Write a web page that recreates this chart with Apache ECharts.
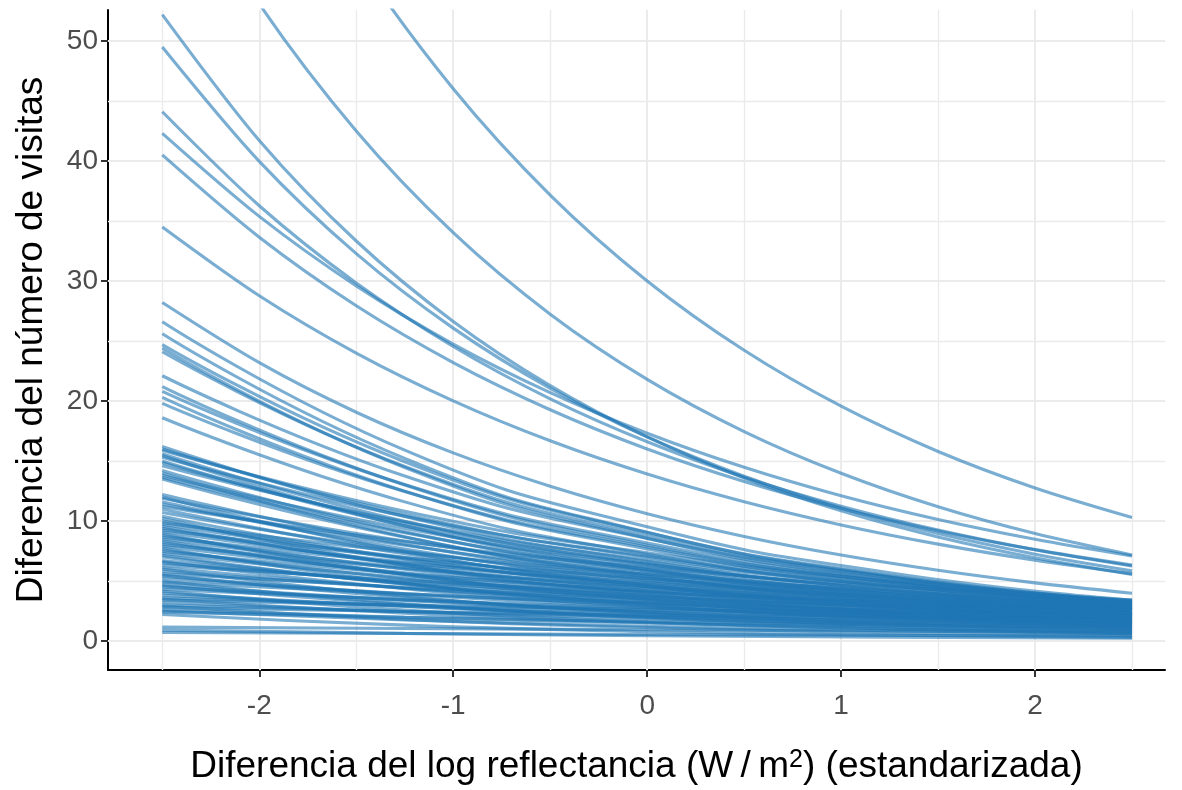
<!DOCTYPE html>
<html lang="es">
<head>
<meta charset="UTF-8">
<title>Diferencia del número de visitas</title>
<script src="https://cdn.jsdelivr.net/npm/echarts@6.0.0/dist/echarts.min.js"></script>
<style>
  html, body { margin: 0; padding: 0; background: #fff; }
  #chart { width: 1182px; height: 790px; }
</style>
</head>
<body>
<div id="chart"></div>
<script>
const xFine = [-2.5, -2, -1.5, -1, -0.5, 0, 0.5, 1, 1.5, 2, 2.5];
const xPoints = [-2.5, -1.25, 0, 1.25, 2.5];
const xTicks = [-2, -1, 0, 1, 2];
const yTicks = [0, 10, 20, 30, 40, 50];
const xMinorGrid = [-2.5, -1.5, -0.5, 0.5, 1.5, 2.5];
const yMinorGrid = [5, 15, 25, 35, 45];

// curves that stay above the dense band (read at xFine)
const topCurves = [
  [87.4, 70.6, 57.0, 46.02, 37.16, 30.0, 24.22, 19.56, 15.79, 12.75, 10.29],
  [66.3, 53.09, 42.5, 34.02, 27.23, 21.8, 17.45, 13.97, 11.18, 8.95, 7.17],
  [52.2, 41.71, 33.33, 26.63, 21.28, 17.0, 13.58, 10.85, 8.67, 6.93, 5.54],
  [49.5, 39.97, 32.28, 26.07, 21.05, 17.0, 13.73, 11.08, 8.95, 7.23, 5.84],
  [44.1, 36.27, 29.83, 24.54, 20.18, 16.6, 13.65, 11.23, 9.24, 7.6, 6.25],
  [42.3, 35.38, 29.59, 24.74, 20.69, 17.31, 14.47, 12.1, 10.12, 8.47, 7.08],
  [40.5, 33.64, 27.93, 23.2, 19.27, 16.0, 13.29, 11.04, 9.17, 7.61, 6.32],
  [34.5, 28.77, 23.99, 20.01, 16.68, 13.91, 11.6, 9.67, 8.07, 6.73, 5.61],
  [28.2, 23.19, 19.06, 15.67, 12.89, 10.6, 8.71, 7.16, 5.89, 4.84, 3.98]
];

// curves starting between ~18 and ~27 (read at xPoints)
const upperBand = [
  [26.6, 15.9, 9.51, 5.69, 3.4],
  [25.6, 15.22, 9.05, 5.38, 3.2],
  [24.7, 14.93, 9.03, 5.46, 3.3],
  [24.4, 14.45, 8.56, 5.07, 3.0],
  [24.1, 14.55, 8.78, 5.3, 3.2],
  [22.1, 13.74, 8.54, 5.31, 3.3],
  [21.2, 13.0, 7.98, 4.89, 3.0],
  [20.8, 13.03, 8.16, 5.11, 3.2],
  [20.3, 12.48, 7.67, 4.72, 2.9],
  [19.8, 12.45, 7.83, 4.93, 3.1],
  [18.6, 11.59, 7.22, 4.5, 2.8]
];

// the dense band (read at xPoints)
const denseBand = [
  [16.2, 10.37, 6.64, 4.25, 2.72],
  [16.0, 10.56, 6.97, 4.6, 3.04],
  [15.9, 10.81, 7.35, 5.0, 3.4],
  [15.6, 9.98, 6.39, 4.09, 2.62],
  [15.45, 9.58, 5.94, 3.68, 2.28],
  [15.3, 10.4, 7.07, 4.81, 3.27],
  [15.0, 9.6, 6.14, 3.93, 2.52],
  [14.85, 9.8, 6.47, 4.27, 2.82],
  [14.6, 9.93, 6.75, 4.59, 3.12],
  [14.2, 9.09, 5.82, 3.72, 2.38],
  [14.0, 8.68, 5.38, 3.34, 2.07],
  [13.8, 9.38, 6.38, 4.34, 2.95],
  [13.65, 9.01, 5.95, 3.92, 2.59],
  [13.5, 8.64, 5.53, 3.54, 2.27],
  [12.2, 8.05, 5.31, 3.51, 2.31],
  [12.0, 7.44, 4.61, 2.86, 1.77],
  [11.9, 8.33, 5.83, 4.08, 2.86],
  [11.6, 7.66, 5.05, 3.34, 2.2],
  [11.4, 7.98, 5.59, 3.91, 2.74],
  [11.2, 8.29, 6.13, 4.54, 3.36],
  [11.0, 7.26, 4.79, 3.16, 2.09],
  [10.7, 7.49, 5.24, 3.67, 2.57],
  [10.4, 6.86, 4.53, 2.99, 1.97],
  [10.2, 6.32, 3.92, 2.43, 1.51],
  [10.0, 6.8, 4.62, 3.14, 2.14],
  [9.85, 7.39, 5.54, 4.16, 3.12],
  [9.7, 6.98, 5.03, 3.62, 2.61],
  [9.55, 6.3, 4.16, 2.75, 1.81],
  [9.4, 6.39, 4.35, 2.96, 2.01],
  [9.25, 6.94, 5.2, 3.9, 2.93],
  [9.1, 6.55, 4.72, 3.4, 2.45],
  [8.95, 5.55, 3.44, 2.13, 1.32],
  [8.8, 5.98, 4.07, 2.77, 1.88],
  [8.65, 6.49, 4.87, 3.65, 2.74],
  [8.5, 6.12, 4.41, 3.17, 2.28],
  [8.35, 5.51, 3.64, 2.4, 1.58],
  [8.2, 5.58, 3.79, 2.58, 1.75],
  [8.05, 6.04, 4.53, 3.4, 2.55],
  [7.9, 5.69, 4.1, 2.95, 2.12],
  [7.75, 4.81, 2.98, 1.85, 1.15],
  [7.6, 5.17, 3.51, 2.39, 1.62],
  [7.45, 5.59, 4.19, 3.14, 2.36],
  [7.3, 5.26, 3.78, 2.72, 1.96],
  [7.15, 4.72, 3.11, 2.06, 1.36],
  [7.0, 4.76, 3.24, 2.2, 1.5],
  [6.7, 4.82, 3.47, 2.5, 1.8],
  [6.6, 4.36, 2.87, 1.9, 1.25],
  [6.5, 4.94, 3.75, 2.85, 2.17],
  [6.3, 5.04, 4.03, 3.23, 2.58],
  [6.1, 4.39, 3.16, 2.28, 1.64],
  [6.0, 3.72, 2.31, 1.43, 0.89],
  [5.8, 4.41, 3.35, 2.55, 1.93],
  [5.6, 4.48, 3.58, 2.87, 2.29],
  [5.5, 3.63, 2.4, 1.58, 1.04],
  [5.4, 3.89, 2.8, 2.02, 1.45],
  [5.2, 3.95, 3.0, 2.28, 1.73],
  [5.0, 3.1, 1.92, 1.19, 0.74],
  [4.9, 3.92, 3.14, 2.51, 2.01],
  [4.7, 3.38, 2.44, 1.75, 1.26],
  [4.6, 3.04, 2.0, 1.32, 0.87],
  [4.5, 3.42, 2.6, 1.98, 1.5],
  [4.3, 3.44, 2.75, 2.2, 1.76],
  [4.15, 2.57, 1.6, 0.99, 0.61],
  [4.0, 2.88, 2.07, 1.49, 1.07],
  [3.8, 2.89, 2.19, 1.67, 1.27],
  [3.6, 2.95, 2.42, 1.99, 1.63],
  [3.5, 2.31, 1.52, 1.01, 0.66],
  [3.4, 2.99, 2.63, 2.32, 2.04],
  [3.2, 2.43, 1.85, 1.4, 1.07],
  [3.0, 2.46, 2.02, 1.65, 1.36],
  [2.9, 1.8, 1.11, 0.69, 0.43],
  [2.8, 2.46, 2.17, 1.91, 1.68],
  [2.6, 1.98, 1.5, 1.14, 0.87],
  [2.5, 1.75, 1.23, 0.86, 0.6],
  [2.4, 1.97, 1.61, 1.32, 1.09],
  [2.2, 1.32, 0.79, 0.48, 0.29],
  [1.15, 1.04, 0.93, 0.84, 0.75],
  [0.9, 0.63, 0.44, 0.31, 0.22],
  [0.7, 0.62, 0.54, 0.48, 0.42]
];

const chart = echarts.init(document.getElementById('chart'), null, { renderer: 'canvas' });

const FONT = '"Liberation Sans", Arial, sans-serif';
const LINE_COLOR = 'rgba(31,119,180,0.6)';

// gridlines drawn as markLines so they land exactly on the round values
const gridSeries = {
  type: 'line',
  data: [],
  z: 1,
  silent: true,
  markLine: {
    z: 1,
    silent: true,
    symbol: 'none',
    animation: false,
    label: { show: false },
    emphasis: { disabled: true },
    data: [
      ...xMinorGrid.map(v => ({ xAxis: v, lineStyle: { color: '#ebebeb', width: 1.4, type: 'solid' } })),
      ...yMinorGrid.map(v => ({ yAxis: v, lineStyle: { color: '#ebebeb', width: 1.4, type: 'solid' } })),
      ...xTicks.map(v => ({ xAxis: v, lineStyle: { color: '#ebebeb', width: 2, type: 'solid' } })),
      ...yTicks.map(v => ({ yAxis: v, lineStyle: { color: '#ebebeb', width: 2, type: 'solid' } }))
    ]
  }
};

function curve(xs, ys, smooth) {
  return {
    type: 'line',
    data: xs.map((x, i) => [x, ys[i]]),
    showSymbol: false,
    smooth: smooth,
    clip: true,
    silent: true,
    z: 3,
    lineStyle: { color: LINE_COLOR, width: 3.1 }
  };
}

const curveSeries = topCurves.map(ys => curve(xFine, ys, 0.3))
  .concat(upperBand.concat(denseBand).map(ys => curve(xPoints, ys, 0.5)));

const option = {
  backgroundColor: '#fff',
  animation: false,
  grid: { left: 108, right: 17, top: 10, bottom: 120, containLabel: false },
  xAxis: {
    type: 'value',
    min: -2.78,
    max: 2.67,
    name: 'Diferencia del log reflectancia (W\u2009/\u2009m{sup|2}) (estandarizada)',
    nameLocation: 'middle',
    nameGap: 78,
    nameTextStyle: {
      fontFamily: FONT, fontSize: 37, color: '#000',
      rich: { sup: { fontFamily: FONT, fontSize: 25, color: '#000', verticalAlign: 'top' } }
    },
    axisLine: { show: true, onZero: false, lineStyle: { color: '#000', width: 2 } },
    axisTick: { show: true, length: 7, customValues: xTicks, lineStyle: { color: '#333', width: 2 } },
    axisLabel: { customValues: xTicks, margin: 22, fontFamily: FONT, fontSize: 28, color: '#4d4d4d' },
    splitLine: { show: false }
  },
  yAxis: {
    type: 'value',
    min: -2.42,
    max: 52.58,
    name: 'Diferencia del número de visitas',
    nameLocation: 'middle',
    nameRotate: 90,
    nameGap: 58,
    nameTextStyle: { fontFamily: FONT, fontSize: 37, color: '#000' },
    axisLine: { show: true, onZero: false, lineStyle: { color: '#000', width: 2 } },
    axisTick: { show: true, length: 7, customValues: yTicks, lineStyle: { color: '#333', width: 2 } },
    axisLabel: { customValues: yTicks, margin: 10, fontFamily: FONT, fontSize: 28, color: '#4d4d4d' },
    splitLine: { show: false }
  },
  series: [gridSeries].concat(curveSeries)
};

chart.setOption(option);
</script>
</body>
</html>
